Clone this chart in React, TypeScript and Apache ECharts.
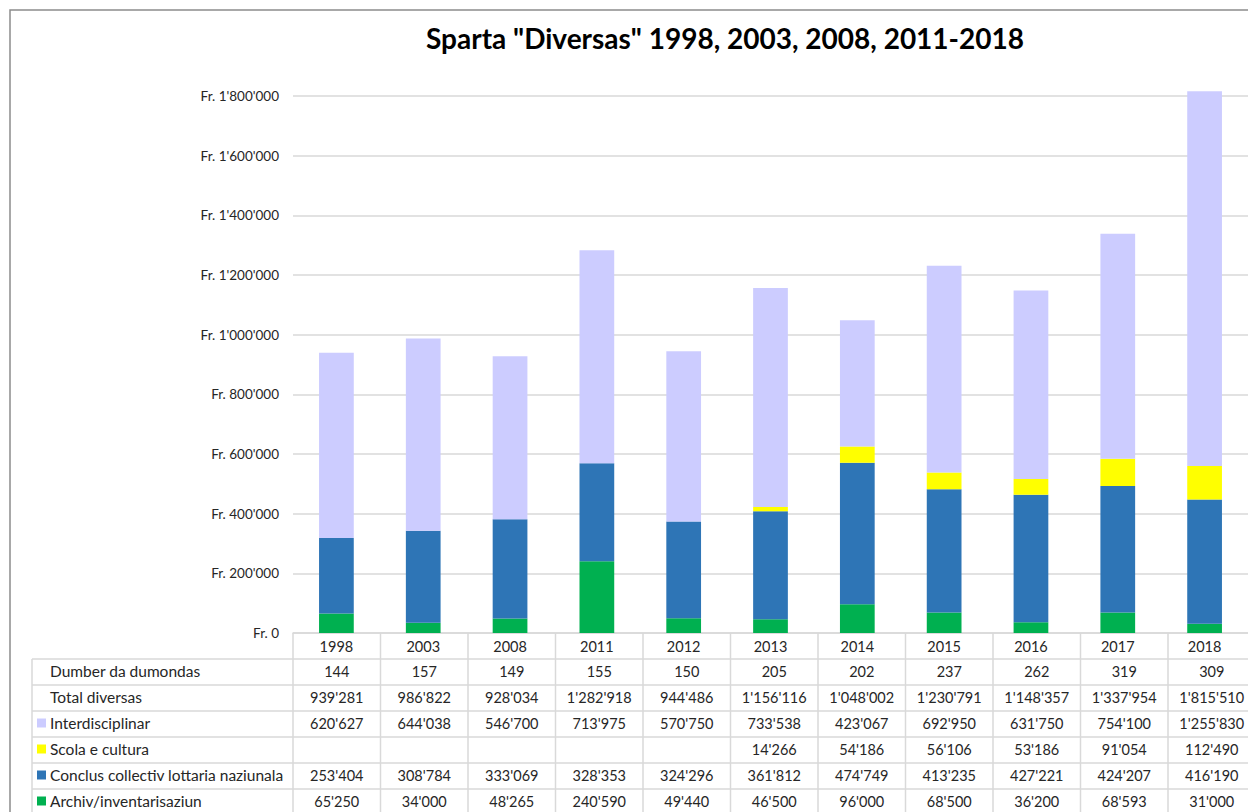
import React, { useEffect, useRef } from "react";
import * as echarts from "echarts";

const years = ["1998", "2003", "2008", "2011", "2012", "2013", "2014", "2015", "2016", "2017", "2018"];
const requests = [144, 157, 149, 155, 150, 205, 202, 237, 262, 319, 309];
const totals = [939281, 986822, 928034, 1282918, 944486, 1156116, 1048002, 1230791, 1148357, 1337954, 1815510];
const interdisciplinar = [620627, 644038, 546700, 713975, 570750, 733538, 423067, 692950, 631750, 754100, 1255830];
const scola = [null, null, null, null, null, 14266, 54186, 56106, 53186, 91054, 112490];
const conclus = [253404, 308784, 333069, 328353, 324296, 361812, 474749, 413235, 427221, 424207, 416190];
const archiv = [65250, 34000, 48265, 240590, 49440, 46500, 96000, 68500, 36200, 68593, 31000];

const yTicks = { min: 0, max: 1800000, interval: 200000 };

const COLORS = {
  interdisciplinar: "#ccccff",
  scola: "#ffff00",
  conclus: "#2e75b6",
  archiv: "#00b050",
};

const FONT = "Lato, 'Noto Sans', sans-serif";

function fmt(v: number | null): string {
  if (v === null || v === undefined) return "";
  const s = String(Math.round(v));
  return s.replace(/\B(?=(\d{3})+(?!\d))/g, "'");
}

export default function App() {
  const ref = useRef<HTMLDivElement>(null);

  useEffect(() => {
    if (!ref.current) return;
    const chart = echarts.init(ref.current, null, { renderer: "svg" });

    const gridLeft = 293;
    const gridTop = 96;
    const colW = 87.5;
    const gridWidth = colW * years.length;
    const gridHeight = 537;
    const axisY = gridTop + gridHeight;
    const tableLeft = 32;
    const rowH = 26;
    const headerBottom = axisY + 26;

    const rows = [
      { label: "Dumber da dumondas", values: requests as (number | null)[], color: null as string | null },
      { label: "Total diversas", values: totals as (number | null)[], color: null },
      { label: "Interdisciplinar", values: interdisciplinar as (number | null)[], color: COLORS.interdisciplinar },
      { label: "Scola e cultura", values: scola as (number | null)[], color: COLORS.scola },
      { label: "Conclus collectiv lottaria naziunala", values: conclus as (number | null)[], color: COLORS.conclus },
      { label: "Archiv/inventarisaziun", values: archiv as (number | null)[], color: COLORS.archiv },
    ];

    const lineStyle = { stroke: "#d9d9d9", lineWidth: 1.5 };
    const graphics: any[] = [];

    graphics.push({
      type: "rect",
      shape: { x: 10, y: 10, width: 1300, height: 900 },
      style: { fill: "none", stroke: "#8c8c8c", lineWidth: 1.5 },
      silent: true,
    });

    for (let i = 0; i <= years.length; i++) {
      const x = gridLeft + i * colW;
      graphics.push({
        type: "line",
        shape: { x1: x, y1: axisY, x2: x, y2: 830 },
        style: lineStyle,
        silent: true,
      });
    }
    graphics.push({
      type: "line",
      shape: { x1: tableLeft, y1: headerBottom, x2: tableLeft, y2: 830 },
      style: lineStyle,
      silent: true,
    });
    for (let r = 0; r <= rows.length; r++) {
      const y = headerBottom + r * rowH;
      graphics.push({
        type: "line",
        shape: { x1: tableLeft, y1: y, x2: 1260, y2: y },
        style: lineStyle,
        silent: true,
      });
    }

    rows.forEach((row, r) => {
      const cy = headerBottom + r * rowH + rowH / 2 - 1;
      if (row.color) {
        graphics.push({
          type: "rect",
          shape: { x: 37, y: cy - 4.5, width: 9, height: 9 },
          style: { fill: row.color },
          silent: true,
        });
      }
      graphics.push({
        type: "text",
        x: 50,
        y: cy,
        style: {
          text: row.label,
          fontSize: 15.5,
          fontFamily: FONT,
          fill: "#262626",
          align: "left",
          verticalAlign: "middle",
        },
        silent: true,
      });
      row.values.forEach((v, i) => {
        if (v === null) return;
        graphics.push({
          type: "text",
          x: gridLeft + (i + 0.5) * colW,
          y: cy,
          style: {
            text: fmt(v),
            fontSize: 14.5,
            fontFamily: FONT,
            fill: "#262626",
            align: "center",
            verticalAlign: "middle",
          },
          silent: true,
        });
      });
    });

    const barCommon = {
      type: "bar",
      stack: "total",
      barWidth: "40%",
      clip: false,
    };

    chart.setOption({
      animation: false,
      backgroundColor: "#ffffff",
      title: {
        text: 'Sparta "Diversas" 1998, 2003, 2008, 2011-2018',
        left: 720,
        top: 19,
        textAlign: "center",
        textStyle: {
          fontFamily: FONT,
          fontWeight: "bold",
          fontSize: 28,
          color: "#000000",
        },
      },
      grid: {
        left: gridLeft,
        top: gridTop,
        width: gridWidth,
        height: gridHeight,
      },
      xAxis: {
        type: "category",
        data: years,
        axisLine: { show: true, lineStyle: { color: "#d9d9d9", width: 1.5 } },
        axisTick: { show: false },
        axisLabel: {
          fontFamily: FONT,
          fontSize: 14.5,
          color: "#262626",
          margin: 13,
          verticalAlign: "middle",
        },
      },
      yAxis: {
        type: "value",
        min: yTicks.min,
        max: yTicks.max,
        interval: yTicks.interval,
        axisLine: { show: false },
        axisTick: { show: false },
        splitLine: { lineStyle: { color: "#d9d9d9", width: 1.5 } },
        axisLabel: {
          fontFamily: FONT,
          fontSize: 13.5,
          color: "#262626",
          margin: 14,
          formatter: (v: number) => "Fr. " + fmt(v),
        },
      },
      series: [
        { ...barCommon, name: "Archiv/inventarisaziun", data: archiv, itemStyle: { color: COLORS.archiv } },
        { ...barCommon, name: "Conclus collectiv lottaria naziunala", data: conclus, itemStyle: { color: COLORS.conclus } },
        { ...barCommon, name: "Scola e cultura", data: scola, itemStyle: { color: COLORS.scola } },
        { ...barCommon, name: "Interdisciplinar", data: interdisciplinar, itemStyle: { color: COLORS.interdisciplinar } },
      ],
      graphic: graphics,
    });

    return () => {
      chart.dispose();
    };
  }, []);

  return (
    <div
      ref={ref}
      style={{ position: "fixed", left: 0, top: 0, width: 1248, height: 812, background: "#fff" }}
    />
  );
}
